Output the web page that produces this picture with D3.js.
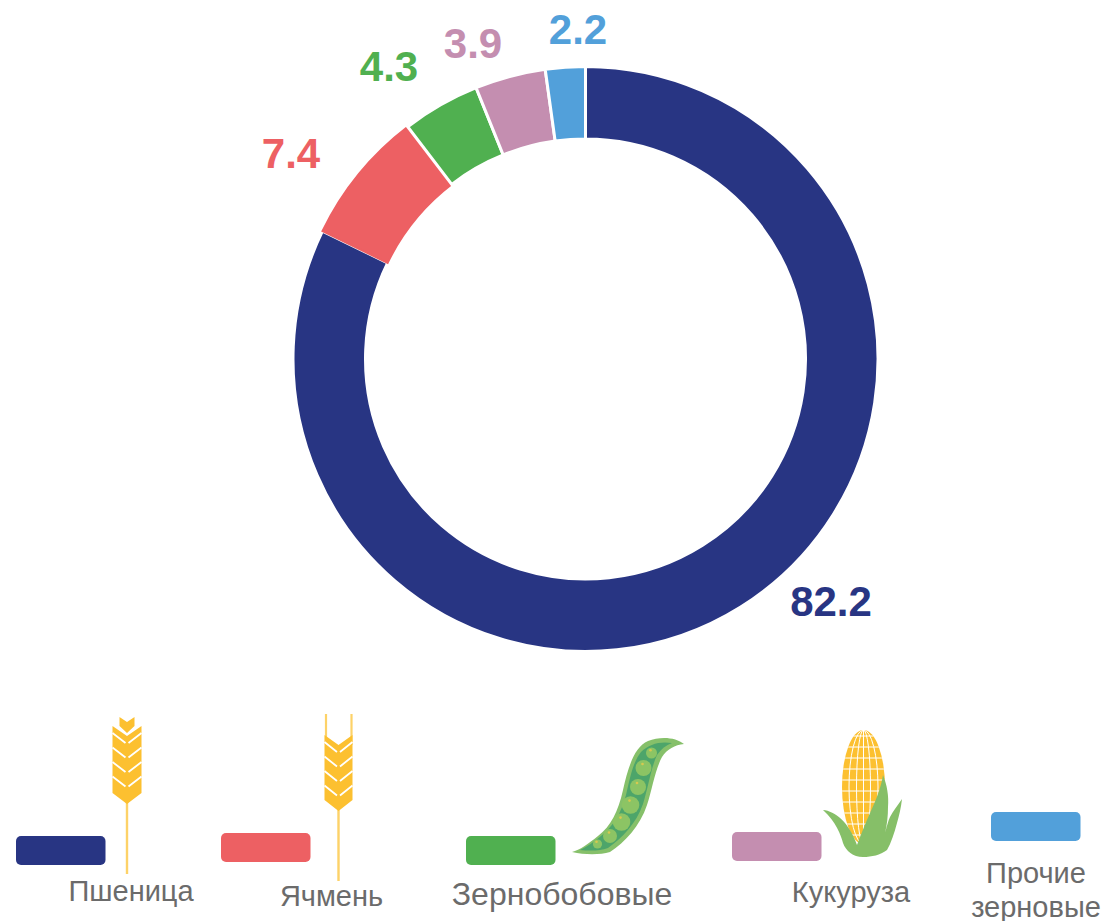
<!DOCTYPE html>
<html>
<head>
<meta charset="utf-8">
<script src="https://cdn.jsdelivr.net/npm/d3@7"></script>
<style>
  html, body { margin: 0; padding: 0; background: #fff; }
  svg { display: block; }
</style>
</head>
<body>
<svg id="chart"></svg>
<script>
const categories = ['Пшеница', 'Ячмень', 'Зернобобовые', 'Кукуруза', 'Прочие зерновые']
const values = [82.2, 7.4, 4.3, 3.9, 2.2]
const colors = ['#283583', '#ed6063', '#50b050', '#c48eb0', '#52a0da']

// layout, one entry per category
const labelPos = [[831, 616], [291, 168], [389, 81], [473, 58], [578, 44]]
const swatchPos = [[16, 836], [221, 833], [466, 836], [732, 832], [991, 812]]
const namePos = [[131, 901], [331.5, 906], [562, 905], [851, 902], [1036, 883]]
const nameSize = [29, 29, 32, 29, 29]

const width = 1104
const height = 921
const cx = 585.5
const cy = 359
const outerRadius = 292.5
const innerRadius = 220

const svg = d3.select('#chart').attr('width', width).attr('height', height)
const color = d3.scaleOrdinal().domain(categories).range(colors)

const rows = categories.map((name, i) => ({ name, value: values[i], i }))

// donut
const pie = d3.pie().sort(null).value((d) => d.value)
const arc = d3.arc().innerRadius(innerRadius).outerRadius(outerRadius)

svg
  .append('g')
  .attr('id', 'donut')
  .attr('transform', `translate(${cx},${cy})`)
  .selectAll('path')
  .data(pie(rows))
  .join('path')
  .attr('d', arc)
  .attr('fill', (d) => color(d.data.name))
  // the barley slice sits slightly proud of the ring in the original
  .attr('stroke', (d) => (d.data.i === 1 ? color(d.data.name) : '#fff'))
  .attr('stroke-width', (d) => (d.data.i === 1 ? 2 : 3))

// value labels
svg
  .append('g')
  .attr('id', 'labels')
  .selectAll('text')
  .data(rows)
  .join('text')
  .attr('x', (d) => labelPos[d.i][0])
  .attr('y', (d) => labelPos[d.i][1])
  .attr('text-anchor', 'middle')
  .attr('font-family', '"Liberation Sans", Arial, sans-serif')
  .attr('font-weight', 'bold')
  .attr('font-size', 42)
  .attr('fill', (d) => color(d.name))
  .text((d) => d.value)

// legend swatches
const legend = svg.append('g').attr('id', 'legend')
legend
  .selectAll('rect')
  .data(rows)
  .join('rect')
  .attr('x', (d) => swatchPos[d.i][0])
  .attr('y', (d) => swatchPos[d.i][1])
  .attr('width', 89.5)
  .attr('height', 29)
  .attr('rx', 5)
  .attr('fill', (d) => color(d.name))

// legend names, the last one wraps on two lines
legend
  .selectAll('text')
  .data(rows)
  .join('text')
  .attr('text-anchor', 'middle')
  .attr('font-family', '"Liberation Sans", Arial, sans-serif')
  .attr('font-size', (d) => nameSize[d.i])
  .attr('fill', '#6b6b6b')
  .each(function (d) {
    const words = d.i === 4 ? d.name.split(' ') : [d.name]
    d3.select(this)
      .selectAll('tspan')
      .data(words)
      .join('tspan')
      .attr('x', namePos[d.i][0])
      .attr('y', (w, k) => namePos[d.i][1] + k * 34)
      .text((w) => w)
  })

// icons
const icons = svg.append('g').attr('id', 'icons')
const gold = '#fcc030'
const stemGold = '#fdd268'

function chevronHead(g, x, top, bottom, half, rows) {
  // ear shape with white notches cut across it
  g.append('path')
    .attr('fill', gold)
    .attr(
      'd',
      `M${x - half},${top} L${x},${top + 10} L${x + half},${top} L${x + half},${bottom - 11} ` +
        `L${x},${bottom} L${x - half},${bottom - 11} Z`
    )
  g.selectAll('path.notch')
    .data(d3.range(rows))
    .join('path')
    .attr('class', 'notch')
    .attr('fill', 'none')
    .attr('stroke', '#fff')
    .attr('stroke-width', 1.8)
    .attr('d', (k) => {
      const y = top + 17 + k * 14.5
      return `M${x - half},${y - 10} L${x - 1.5},${y} M${x + 1.5},${y} L${x + half},${y - 10}`
    })
}

// wheat
const wheat = icons.append('g')
wheat
  .append('line')
  .attr('x1', 127)
  .attr('x2', 127)
  .attr('y1', 800)
  .attr('y2', 874)
  .attr('stroke', stemGold)
  .attr('stroke-width', 2.4)
chevronHead(wheat, 127, 726, 804, 14.5, 4)
wheat
  .append('path')
  .attr('fill', gold)
  .attr('d', 'M119.5,717 L127,722 L134.5,717 L134.5,726 L127,733 L119.5,726 Z')

// barley
const barley = icons.append('g')
barley
  .append('line')
  .attr('x1', 338.5)
  .attr('x2', 338.5)
  .attr('y1', 805)
  .attr('y2', 881)
  .attr('stroke', stemGold)
  .attr('stroke-width', 2.4)
barley
  .selectAll('line.awn')
  .data([326, 351.5])
  .join('line')
  .attr('class', 'awn')
  .attr('x1', (d) => d)
  .attr('x2', (d) => d)
  .attr('y1', 714)
  .attr('y2', 745)
  .attr('stroke', stemGold)
  .attr('stroke-width', 2.2)
chevronHead(barley, 338.5, 735, 811, 14, 4)

// pea pod
const pod = icons.append('g')
pod
  .append('path')
  .attr('fill', '#86c06a')
  .attr(
    'd',
    'M684,744 C676,737 660,736 648,741 C634,747 628,768 623,790 C618,812 611,826 598,836 ' +
      'C588,844 580,850 572,852 C585,855 600,855 610,852 C625,842 640,826 647,805 C652,790 655,770 662,757 C667,749 675,745 684,744 Z'
  )
pod
  .append('path')
  .attr('fill', '#4da56a')
  .attr(
    'd',
    'M672,743 C660,741 649,744 641,752 C633,762 630,778 626,795 C621,814 613,826 601,836 ' +
      'C594,842 586,847 580,850 C590,851 600,851 608,848 C622,838 636,824 643,804 C648,788 651,768 657,755 C661,749 666,745 672,743 Z'
  )
const peas = [
  [651.5, 753, 5.5],
  [643.5, 768, 8],
  [638, 787, 8],
  [630.5, 805, 8.8],
  [621.5, 822, 8.8],
  [610, 836, 7],
  [597.5, 844, 4.6],
]
pod
  .selectAll('circle.pea')
  .data(peas)
  .join('circle')
  .attr('class', 'pea')
  .attr('cx', (d) => d[0])
  .attr('cy', (d) => d[1])
  .attr('r', (d) => d[2])
  .attr('fill', '#8cc464')
pod
  .selectAll('circle.dot')
  .data(peas)
  .join('circle')
  .attr('class', 'dot')
  .attr('cx', (d) => d[0] - 1)
  .attr('cy', (d) => d[1] - d[2] * 0.5)
  .attr('r', 1.3)
  .attr('fill', '#d8c850')

// corn
const corn = icons.append('g')
const earX = 863.5
corn
  .append('ellipse')
  .attr('cx', earX)
  .attr('cy', 787)
  .attr('rx', 21.5)
  .attr('ry', 57)
  .attr('fill', gold)
corn
  .append('clipPath')
  .attr('id', 'ear')
  .append('ellipse')
  .attr('cx', earX)
  .attr('cy', 787)
  .attr('rx', 21.5)
  .attr('ry', 57)
const grid = corn.append('g').attr('clip-path', 'url(#ear)')
grid
  .selectAll('line.row')
  .data(d3.range(736, 845, 11))
  .join('line')
  .attr('class', 'row')
  .attr('x1', earX - 22)
  .attr('x2', earX + 22)
  .attr('y1', (d) => d)
  .attr('y2', (d) => d)
  .attr('stroke', '#fff')
  .attr('stroke-width', 1)
grid
  .selectAll('ellipse')
  .data([7, 14.5])
  .join('ellipse')
  .attr('cx', earX)
  .attr('cy', 787)
  .attr('rx', (d) => d)
  .attr('ry', 57)
  .attr('fill', 'none')
  .attr('stroke', '#fff')
  .attr('stroke-width', 1)
grid
  .append('line')
  .attr('x1', earX)
  .attr('x2', earX)
  .attr('y1', 730)
  .attr('y2', 845)
  .attr('stroke', '#fff')
  .attr('stroke-width', 1)
corn
  .append('path')
  .attr('fill', '#86bf68')
  .attr(
    'd',
    'M823,810 C835,811 849,822 857,845 C862,832 866,822 870,813 C876,800 881,788 883,775 ' +
      'C887,785 889,796 888,807 C888,816 887,825 885,833 C887,826 888,821 890,817 C893,811 898,805 902,799 ' +
      'C901,808 899,816 897,823 C894,834 891,843 887,850 C880,855 872,857 863,857 ' +
      'C853,857 846,851 843,843 C841,835 836,822 823,810 Z'
  )
</script>
</body>
</html>
